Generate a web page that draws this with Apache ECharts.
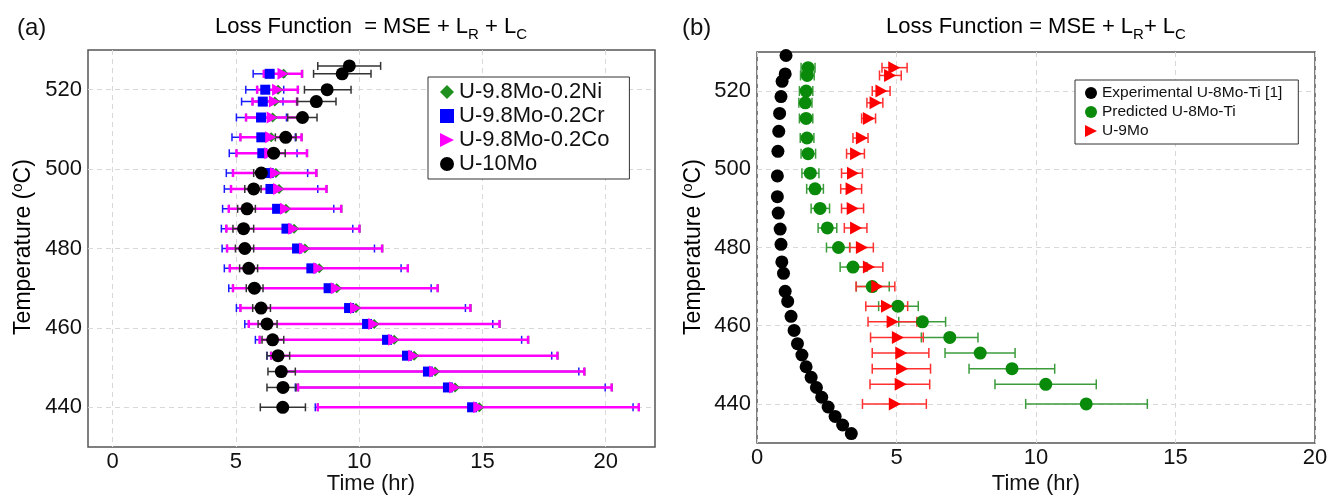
<!DOCTYPE html>
<html><head><meta charset="utf-8">
<script src="https://cdn.jsdelivr.net/npm/echarts@6/dist/echarts.min.js"></script>
<style>html,body{margin:0;padding:0;background:#fff}#c{width:1342px;height:499px}</style>
</head><body><div id="c"></div>
<script>
const FONT = '"Liberation Sans", Arial, Helvetica, sans-serif';

// ---------- Panel (a) data ----------
const tempA_10Mo = [526,524,520,517,513,508,504,499,495,490,485,480,475,470,465,461,457,453,449,445,440];
const timeA_10Mo = [9.60,9.31,8.70,8.26,7.70,7.02,6.53,6.03,5.72,5.45,5.31,5.36,5.52,5.75,6.02,6.26,6.49,6.71,6.84,6.91,6.90];
const lowA_10Mo  = [8.32,8.15,7.78,7.48,7.10,6.60,6.19,5.72,5.36,5.07,4.88,4.98,5.15,5.42,5.68,5.90,6.06,6.26,6.30,6.26,5.99];
const highA_10Mo = [10.87,10.48,9.67,9.06,8.29,7.44,7.00,6.37,6.02,5.79,5.72,5.72,5.88,6.10,6.40,6.67,6.94,7.18,7.41,7.44,7.82];

const tempA_alloy = [524,520,517,513,508,504,499,495,490,485,480,475,470,465,461,457,453,449,445,440];
const timeA_Cr = [6.37,6.19,6.09,6.02,6.03,6.07,6.33,6.40,6.67,7.05,7.48,8.06,8.76,9.59,10.32,11.13,11.94,12.79,13.60,14.58];
const lowA_Cr  = [5.70,5.40,5.23,5.02,4.84,4.73,4.61,4.53,4.46,4.41,4.44,4.53,4.71,5.02,5.36,5.79,6.26,6.80,7.41,8.22];
const highA_Cr = [6.97,6.94,6.91,7.05,7.41,7.48,7.91,8.32,8.97,9.74,10.62,11.70,12.92,14.31,15.42,16.59,17.81,18.91,19.98,21.11];

const timeA_Co = [6.91,6.69,6.56,6.47,6.41,6.37,6.60,6.73,7.01,7.34,7.78,8.36,9.07,9.85,10.59,11.40,12.21,13.06,13.87,14.85];
const lowA_Co  = [6.13,5.86,5.67,5.41,5.18,5.02,4.88,4.80,4.71,4.61,4.64,4.75,4.88,5.18,5.52,5.96,6.43,6.90,7.52,8.32];
const highA_Co = [7.68,7.51,7.48,7.56,7.66,7.88,8.26,8.67,9.27,10.01,10.93,11.97,13.18,14.51,15.69,16.85,18.04,19.13,20.24,21.34];

const timeA_Ni = [6.93,6.71,6.58,6.49,6.43,6.39,6.62,6.75,7.03,7.36,7.80,8.38,9.09,9.87,10.61,11.42,12.23,13.08,13.89,14.87];
const lowA_Ni  = [6.14,5.87,5.68,5.42,5.19,5.03,4.89,4.81,4.72,4.62,4.65,4.76,4.89,5.19,5.53,5.97,6.44,6.91,7.53,8.33];
const highA_Ni = [7.70,7.53,7.50,7.58,7.68,7.90,8.28,8.69,9.29,10.03,10.95,11.99,13.20,14.53,15.71,16.87,18.06,19.15,20.26,21.36];

// ---------- Panel (b) data ----------
const tempB_exp = [529.1,524.4,522.5,518.6,514.3,509.7,504.6,498.3,493.0,488.8,484.7,480.8,476.3,473.4,468.8,466.2,462.4,458.8,455.4,452.5,449.5,446.8,444.2,441.7,439.2,436.8,434.6,432.4];
const timeB_exp = [1.04,1.01,0.90,0.86,0.81,0.78,0.75,0.73,0.73,0.76,0.83,0.86,0.89,0.95,1.01,1.10,1.22,1.33,1.45,1.61,1.76,1.94,2.13,2.32,2.55,2.80,3.07,3.38];

const tempB = [526,524,520,517,513,508,504,499,495,490,485,480,475,470,465,461,457,453,449,445,440];
const timeB_pred = [1.83,1.80,1.76,1.73,1.76,1.79,1.83,1.91,2.08,2.26,2.52,2.92,3.44,4.13,5.05,5.93,6.91,8.00,9.14,10.35,11.80];
const lowB_pred  = [1.58,1.56,1.52,1.50,1.52,1.55,1.58,1.61,1.78,1.94,2.19,2.49,2.98,3.56,4.36,5.08,5.89,6.74,7.60,8.53,9.63];
const highB_pred = [2.08,2.05,2.00,1.97,2.00,2.04,2.10,2.22,2.38,2.60,2.86,3.33,3.94,4.74,5.78,6.76,7.92,9.25,10.67,12.16,13.99];

const timeB_9Mo = [4.92,4.77,4.46,4.25,4.01,3.76,3.55,3.44,3.39,3.43,3.55,3.76,4.01,4.31,4.66,4.86,5.05,5.17,5.20,5.15,4.94];
const lowB_9Mo  = [4.48,4.39,4.13,3.94,3.75,3.44,3.21,3.03,3.00,3.03,3.13,3.32,3.52,3.55,3.90,3.98,4.07,4.13,4.13,4.05,3.78];
const highB_9Mo = [5.38,5.17,4.77,4.51,4.25,3.98,3.85,3.78,3.75,3.82,3.94,4.17,4.51,4.94,5.40,5.73,5.96,6.16,6.22,6.19,6.07];

// ---------- helpers ----------
const pts = (xs, ys) => xs.map((x, i) => [x, ys[i]]);
const errData = (lo, hi, ys) => lo.map((l, i) => [l, hi[i], ys[i]]);
const TRI = 'path://M0,0L10,5L0,10Z';

function errSeries(name, xi, yi, data, color, width, half, z) {
  return {
    type: 'custom', name: name, xAxisIndex: xi, yAxisIndex: yi, z: z, silent: true,
    encode: { x: [0, 1], y: 2 },
    data: data,
    renderItem: function (params, api) {
      const a = api.coord([api.value(0), api.value(2)]);
      const b = api.coord([api.value(1), api.value(2)]);
      const st = { stroke: color, lineWidth: width };
      return { type: 'group', children: [
        { type: 'line', shape: { x1: a[0], y1: a[1], x2: b[0], y2: b[1] }, style: st },
        { type: 'line', shape: { x1: a[0], y1: a[1] - half, x2: a[0], y2: a[1] + half }, style: st },
        { type: 'line', shape: { x1: b[0], y1: b[1] - half, x2: b[0], y2: b[1] + half }, style: st }
      ]};
    }
  };
}
function scat(name, xi, yi, data, symbol, size, color, z) {
  return { type: 'scatter', name: name, xAxisIndex: xi, yAxisIndex: yi, data: data,
    symbol: symbol, symbolSize: size, itemStyle: { color: color, opacity: 1 }, z: z, silent: true };
}

const gridLine = (colors) => ({ show: true, lineStyle: { color: colors, type: [5, 4], width: 1 } });
const GR = '#d8d8d8', TR = 'rgba(0,0,0,0)';

const labelStyle = { fontFamily: FONT, fontSize: 22, color: '#111' };
const titleRich = {
  t: { fontFamily: FONT, fontSize: 22, color: '#111', lineHeight: 32 },
  s: { fontFamily: FONT, fontSize: 15, color: '#111', lineHeight: 17, padding: [15, 0, 0, 0] }
};
const yNameRich = {
  t: { fontFamily: FONT, fontSize: 23, color: '#111', lineHeight: 27 },
  u: { fontFamily: FONT, fontSize: 15, color: '#111', lineHeight: 15, padding: [0, 0, 12, 0] }
};

const option = {
  animation: false,
  backgroundColor: '#fff',
  grid: [
    { left: 88, top: 50, width: 567, height: 397, show: true, borderColor: '#555', borderWidth: 1.5, backgroundColor: 'transparent', containLabel: false, outerBoundsMode: 'none' },
    { left: 757, top: 52, width: 558, height: 391, show: true, borderColor: '#555', borderWidth: 1.5, backgroundColor: 'transparent', containLabel: false, outerBoundsMode: 'none' }
  ],
  xAxis: [
    { type: 'value', gridIndex: 0, min: -1, max: 22, interval: 1,
      axisLine: { show: false }, axisTick: { show: false },
      axisLabel: Object.assign({ margin: 4, hideOverlap: false, formatter: v => (v >= 0 && v % 5 === 0) ? String(v) : '' }, labelStyle),
      splitLine: gridLine([TR, GR, TR, TR, TR]) },
    { type: 'value', gridIndex: 1, min: 0, max: 20, interval: 5,
      axisLine: { show: false }, axisTick: { show: false },
      axisLabel: Object.assign({ margin: 4, hideOverlap: false }, labelStyle),
      splitLine: gridLine([GR]) }
  ],
  yAxis: [
    { type: 'value', gridIndex: 0, min: 430, max: 530, interval: 10,
      axisLine: { show: false }, axisTick: { show: false },
      axisLabel: Object.assign({ margin: 6, hideOverlap: false, formatter: v => (v % 20 === 0) ? String(v) : '' }, labelStyle),
      splitLine: gridLine([TR, GR]) },
    { type: 'value', gridIndex: 1, min: 430, max: 530, interval: 10,
      axisLine: { show: false }, axisTick: { show: false },
      axisLabel: Object.assign({ margin: 6, hideOverlap: false, formatter: v => (v % 20 === 0) ? String(v) : '' }, labelStyle),
      splitLine: gridLine([TR, GR]) }
  ],
  legend: [
    { data: ['U-9.8Mo-0.2Ni', 'U-9.8Mo-0.2Cr', 'U-9.8Mo-0.2Co', 'U-10Mo'],
      orient: 'vertical', left: 428, top: 77, padding: [4, 20, 4, 12], itemGap: 2,
      itemWidth: 14, itemHeight: 14, borderColor: '#333', borderWidth: 1, backgroundColor: '#fff',
      textStyle: { fontFamily: FONT, fontSize: 22, color: '#111' }, selectedMode: false },
    { data: ['Experimental U-8Mo-Ti [1]', 'Predicted U-8Mo-Ti', 'U-9Mo'],
      orient: 'vertical', left: 1075, top: 80, padding: [5, 16, 5, 10], itemGap: 3,
      itemWidth: 12, itemHeight: 12, borderColor: '#333', borderWidth: 1, backgroundColor: '#fff',
      textStyle: { fontFamily: FONT, fontSize: 15.5, color: '#111' }, selectedMode: false }
  ],
  graphic: [
    { type: 'text', left: 17, top: 16, style: { text: '(a)', font: '24px ' + FONT, fill: '#111' } },
    { type: 'text', left: 682, top: 16, style: { text: '(b)', font: '24px ' + FONT, fill: '#111' } },
    { type: 'text', x: 371, y: 27, style: {
        text: '{t|Loss Function  = MSE + L}{s|R}{t| + L}{s|C}', align: 'center', verticalAlign: 'middle', rich: titleRich } },
    { type: 'text', x: 1036, y: 27, style: {
        text: '{t|Loss Function = MSE + L}{s|R}{t|+ L}{s|C}', align: 'center', verticalAlign: 'middle', rich: titleRich } },
    { type: 'text', x: 24, y: 247, rotation: Math.PI / 2, style: {
        text: '{t|Temperature (}{u|o}{t|C)}', align: 'center', verticalAlign: 'middle', rich: yNameRich } },
    { type: 'text', x: 694, y: 247, rotation: Math.PI / 2, style: {
        text: '{t|Temperature (}{u|o}{t|C)}', align: 'center', verticalAlign: 'middle', rich: yNameRich } },
    { type: 'text', x: 371, y: 484, style: { text: 'Time (hr)', align: 'center', verticalAlign: 'middle', font: '22px ' + FONT, fill: '#111' } },
    { type: 'text', x: 1036, y: 484, style: { text: 'Time (hr)', align: 'center', verticalAlign: 'middle', font: '22px ' + FONT, fill: '#111' } }
  ],
  series: [
    // panel (a) error bars
    errSeries('errNi', 0, 0, errData(lowA_Ni, highA_Ni, tempA_alloy), '#1f9a1f', 1.5, 4, 2),
    errSeries('errCr', 0, 0, errData(lowA_Cr, highA_Cr, tempA_alloy), '#1a1aff', 1.5, 4, 2),
    errSeries('errCo', 0, 0, errData(lowA_Co, highA_Co, tempA_alloy), '#ff00ff', 2.5, 4, 2),
    errSeries('err10Mo', 0, 0, errData(lowA_10Mo, highA_10Mo, tempA_10Mo), '#333333', 1.5, 4, 2),
    // panel (a) markers
    scat('U-9.8Mo-0.2Ni', 0, 0, pts(timeA_Ni, tempA_alloy), 'diamond', 10, '#1f8f1f', 3),
    scat('U-9.8Mo-0.2Cr', 0, 0, pts(timeA_Cr, tempA_alloy), 'rect', 10, '#0000ff', 3),
    scat('U-9.8Mo-0.2Co', 0, 0, pts(timeA_Co, tempA_alloy), TRI, [11, 12], '#ff00ff', 3),
    scat('U-10Mo', 0, 0, pts(timeA_10Mo, tempA_10Mo), 'circle', 13, '#000000', 3),
    // panel (b)
    errSeries('errPred', 1, 1, errData(lowB_pred, highB_pred, tempB), '#3c9c3c', 1.5, 5, 2),
    errSeries('err9Mo', 1, 1, errData(lowB_9Mo, highB_9Mo, tempB), '#ff3030', 1.5, 5, 2),
    scat('Experimental U-8Mo-Ti [1]', 1, 1, pts(timeB_exp, tempB_exp), 'circle', 13, '#000000', 3),
    scat('Predicted U-8Mo-Ti', 1, 1, pts(timeB_pred, tempB), 'circle', 13, '#0a8a0a', 3),
    scat('U-9Mo', 1, 1, pts(timeB_9Mo, tempB), TRI, [12, 13], '#ff0000', 3)
  ]
};

const chart = echarts.init(document.getElementById('c'), null, { renderer: 'canvas' });
chart.setOption(option);
</script>
</body></html>
